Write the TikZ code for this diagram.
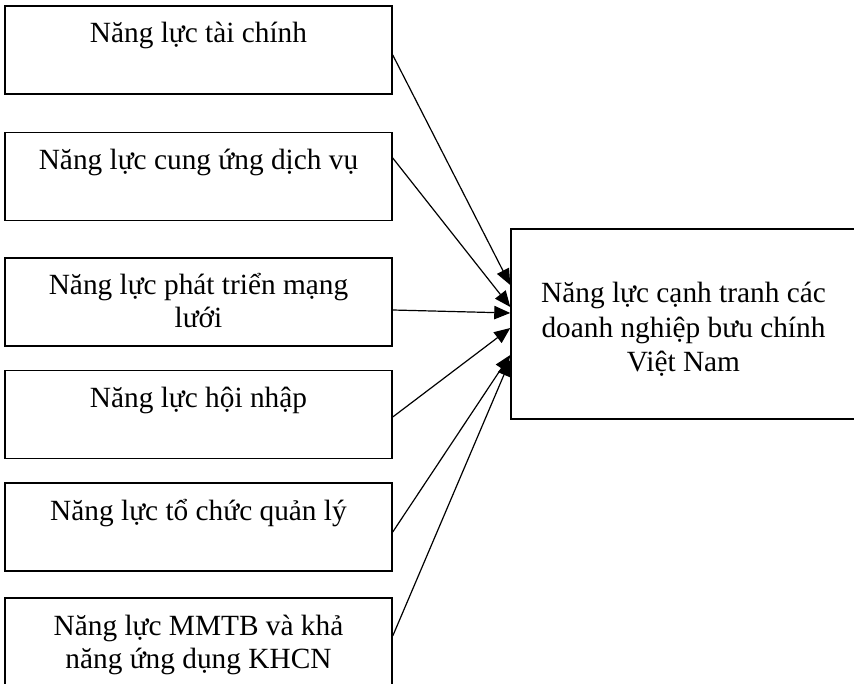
\documentclass[tikz,border=0pt]{standalone}
\usepackage{fontspec}
\setmainfont{Liberation Serif}
\usetikzlibrary{arrows.meta}
\tikzset{
  box/.style={draw, line width=1.1pt, rectangle, minimum width=290.25pt, minimum height=66pt, inner sep=0pt},
  bigbox/.style={draw, line width=1.1pt, rectangle, minimum width=258.75pt, minimum height=142.5pt, inner sep=0pt},
  txt/.style={align=center, inner sep=0pt, anchor=base, font=\fontsize{22}{24.75}\selectfont},
  link/.style={line width=0.9pt, -{Triangle[length=12pt,width=10pt]}}
}
\begin{document}
\begin{tikzpicture}[x=0.75pt, y=-0.75pt]
        \useasboundingbox (0,0) rectangle (854,684);
        \node[box] (fin) at (198.5,50) {};
        \node[box] (serv) at (198.5,176.5) {};
        \node[box] (net) at (198.5,302) {};
        \node[box] (integ) at (198.5,414.5) {};
        \node[box] (mgmt) at (198.5,527) {};
        \node[box] (tech) at (198.5,642) {};
        \node[bigbox] (comp) at (683.5,324) {};
        % base anchor = last line
        \node[txt] (finT) at (198.5,43) {Năng lực tài chính};
        \node[txt] (servT) at (198.5,170) {Năng lực cung ứng dịch vụ};
        \node[txt] (netT) at (198.5,328) {Năng lực phát triển mạng\\lưới};
        \node[txt] (integT) at (198.5,407) {Năng lực hội nhập};
        \node[txt] (mgmtT) at (198.5,520) {Năng lực tổ chức quản lý};
        \node[txt] (techT) at (198.5,668) {Năng lực MMTB và khả\\năng ứng dụng KHCN};
        \node[txt, font=\fontsize{22}{26}\selectfont] (compT) at (683.5,372) {Năng lực cạnh tranh các\\doanh nghiệp bưu chính\\Việt Nam};
        \draw[link] ([yshift=-3.75pt]fin.east) -- ([yshift=29.25pt]comp.west);
        \draw[link] ([yshift=13.875pt]serv.east) -- ([yshift=12.75pt]comp.west);
        \draw[link] ([yshift=-6pt]net.east) -- ([yshift=8.25pt]comp.west);
        \draw[link] ([yshift=-1.875pt]integ.east) -- ([yshift=-3pt]comp.west);
        \draw[link] ([yshift=-3.75pt]mgmt.east) -- ([yshift=-23.25pt]comp.west);
        \draw[link] ([yshift=4.5pt]tech.east) -- ([yshift=-27pt]comp.west);
      \end{tikzpicture}
\end{document}
